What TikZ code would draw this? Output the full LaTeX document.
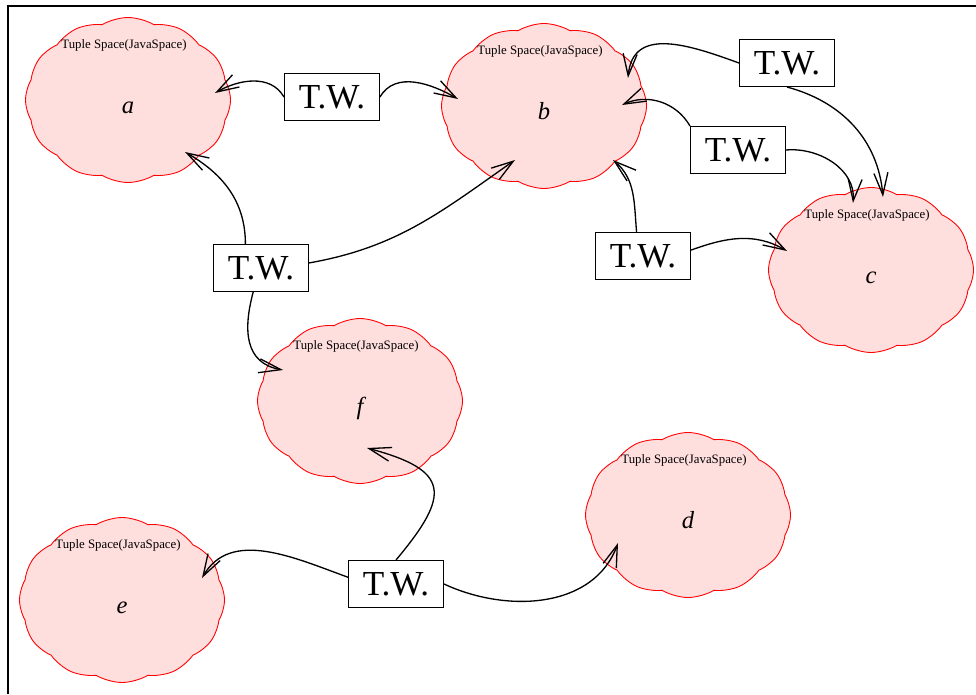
\documentclass[tikz,border=0pt]{standalone}
\usepackage{fontspec}
\setmainfont{Liberation Serif}
\usetikzlibrary{shapes.symbols,arrows.meta}
\definecolor{tspink}{RGB}{255,222,222}
\tikzset{
  ts/.style={cloud, cloud puffs=12, cloud puff arc=62, draw=red, fill=tspink,
    line width=0.5pt, minimum width=41mm, minimum height=33mm, inner sep=0pt,
    text height=5.4mm, text depth=0pt, font=\fontsize{14}{16}\selectfont\itshape},
  tslabel/.style={inner sep=0pt, font=\fontsize{7.3}{8}\selectfont},
  tw/.style={draw, line width=0.6pt, fill=white, minimum width=19mm, minimum height=9.4mm,
    inner sep=0pt, font=\fontsize{20}{24}\selectfont},
}
\begin{document}
\begin{tikzpicture}[x=0.2mm,y=-0.2mm,>={Straight Barb[length=4.4mm,width=2.8mm]},line width=0.75pt]
\useasboundingbox (0,0) rectangle (976,694);
\draw[line width=1.1pt] (8,694) -- (8,6) -- (976,6);
%\draw[help lines] (0,0) grid (976,694);
\node[ts] (a) at (128,100) {a};
\node[ts] (b) at (544,106) {b};
\node[ts] (c) at (871,270) {c};
\node[ts] (f) at (360,401) {f};
\node[ts] (d) at (688,515) {d};
\node[ts] (e) at (122,600) {e};
\node[tslabel] (at) at ([shift={(-4,-55)}]a.center) {Tuple Space(JavaSpace)};
\node[tslabel] (bt) at ([shift={(-4,-55)}]b.center) {Tuple Space(JavaSpace)};
\node[tslabel] (ct) at ([shift={(-4,-55)}]c.center) {Tuple Space(JavaSpace)};
\node[tslabel] (ft) at ([shift={(-4,-55)}]f.center) {Tuple Space(JavaSpace)};
\node[tslabel] (dt) at ([shift={(-4,-55)}]d.center) {Tuple Space(JavaSpace)};
\node[tslabel] (et) at ([shift={(-4,-55)}]e.center) {Tuple Space(JavaSpace)};
\node[tw] (w1) at (332,97) {T.W.};
\node[tw] (w2) at (787,63) {T.W.};
\node[tw] (w3) at (738,150) {T.W.};
\node[tw] (w4) at (643,256) {T.W.};
\node[tw] (w5) at (261,268) {T.W.};
\node[tw] (w6) at (396,584) {T.W.};
\draw[->] (w1.west) to[out=120,in=30] ([shift={(87,-7)}]a.center);
\draw[->] (w1.east) to[out=60,in=150] ([shift={(-86,-7)}]b.center);
\draw[->] (w5.123) to[out=90,in=-30] ([shift={(57,52)}]a.center);
\draw[->] (w5.6) to[out=10,in=215] ([shift={(-29,54)}]b.center);
\draw[->] (w5.-108) to[out=-105,in=170,looseness=1.2] ([shift={(-77,-31)}]f.center);
\draw[->] (w2.west) to[out=160,in=85,looseness=1.2] ([shift={(84,-28)}]b.center);
\draw[->] (w2.south) to[out=-15,in=95] ([shift={(12,-73)}]c.center);
\draw[->] (w3.north west) to[out=120,in=25] ([shift={(78,-1)}]b.center);
\draw[->] (w3.east) to[out=5,in=85] ([shift={(-18,-67)}]c.center);
\draw[->] (w4.105) to[out=95,in=-40] ([shift={(69,54)}]b.center);
\draw[->] (w4.7) to[out=20,in=150] ([shift={(-84,-19)}]c.center);
\draw[->] (w6.north) to[out=50,in=-15,looseness=1.9] ([shift={(7,47)}]f.center);
\draw[->] (w6.172) to[out=160,in=60] ([shift={(80,-22)}]e.center);
\draw[->] (w6.east) to[out=-25,in=-110] ([shift={(-70,28)}]d.center);
\end{tikzpicture}
\end{document}
